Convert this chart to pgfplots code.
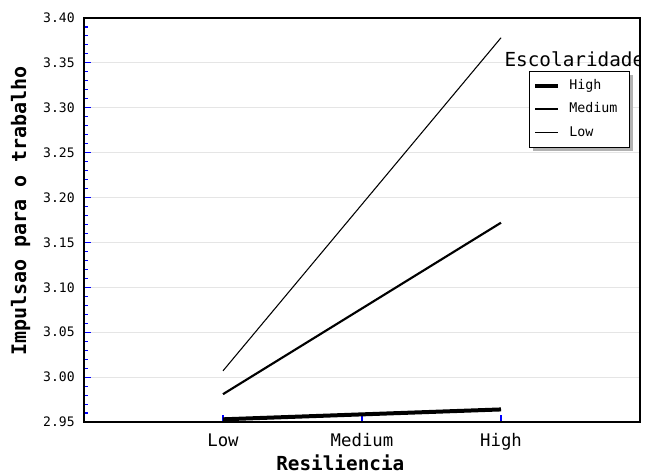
\documentclass[border=0pt]{standalone}
\usepackage{pgfplots}
\pgfplotsset{compat=1.18}
\usepackage{fontspec}
\setmainfont{DejaVu Sans Mono}
\usetikzlibrary{shadows}
\begin{document}
\begin{tikzpicture}[x=1pt,y=1pt]
\useasboundingbox (-63,-39.75) rectangle (423,316.5);
\begin{axis}[at={(0,0)}, anchor=south west, scale only axis,
 width=417pt, height=303pt,
 xmin=-1, xmax=3, ymin=2.95, ymax=3.40,
 xtick={0,1,2}, xticklabels={Low,Medium,High},
 ytick={2.95,3.00,3.05,3.10,3.15,3.20,3.25,3.30,3.35,3.40},
 minor y tick num=4,
 /pgf/number format/assume math mode=true,
 yticklabel style={font=\fontsize{9.8}{11}\selectfont, xshift=-3.5pt, /pgf/number format/fixed, /pgf/number format/fixed zerofill, /pgf/number format/precision=2},
 xticklabel style={font=\fontsize{13}{15}\selectfont, yshift=-5pt},
 tick align=inside, xtick pos=lower, ytick pos=left,
 major tick length=5pt, minor tick length=3pt,
 every tick/.style={blue, line width=0.8pt},
 axis line style={line width=1.5pt},
 ymajorgrids, grid style={gray!20, line width=0.8pt},
 xlabel={Resiliencia}, ylabel={Impulsao para o trabalho},
 xlabel style={font=\bfseries\fontsize{14.5}{17}\selectfont, at={(axis description cs:0.461,-0.120)}, anchor=base, inner sep=0pt},
 ylabel style={font=\bfseries\fontsize{15}{17}\selectfont, at={(axis description cs:-0.114,0.522)}, anchor=center},
 legend image code/.code={\begin{scope}[#1]\pgfpathmoveto{\pgfpointorigin}\pgfpathlineto{\pgfpoint{17pt}{0pt}}\pgfusepath{stroke}\end{scope}},
 legend cell align=left,
 legend style={at={(rel axis cs:0.80,0.869)}, anchor=north west, draw=black, line width=0.75pt, fill=white,
   drop shadow={shadow xshift=3pt, shadow yshift=-3pt, fill=gray!60, opacity=1},
   font=\fontsize{10}{12}\selectfont, inner xsep=3pt, inner ysep=2pt,
   nodes={text height=7.5pt, text depth=2.5pt, inner ysep=3.8pt},
   /tikz/every odd column/.append style={column sep=5pt}},
]
\addplot[black, line width=3pt] coordinates {(0,2.953) (2,2.964)};
\addplot[black, line width=1.6pt] coordinates {(0,2.981) (2,3.172)};
\addplot[black, line width=0.8pt] coordinates {(0,3.007) (2,3.378)};
\legend{High,Medium\hspace*{4pt},Low}
\node[font=\fontsize{14.5}{16}\selectfont] at (rel axis cs:0.882,0.8985) {Escolaridade};
\end{axis}
\end{tikzpicture}
\end{document}
